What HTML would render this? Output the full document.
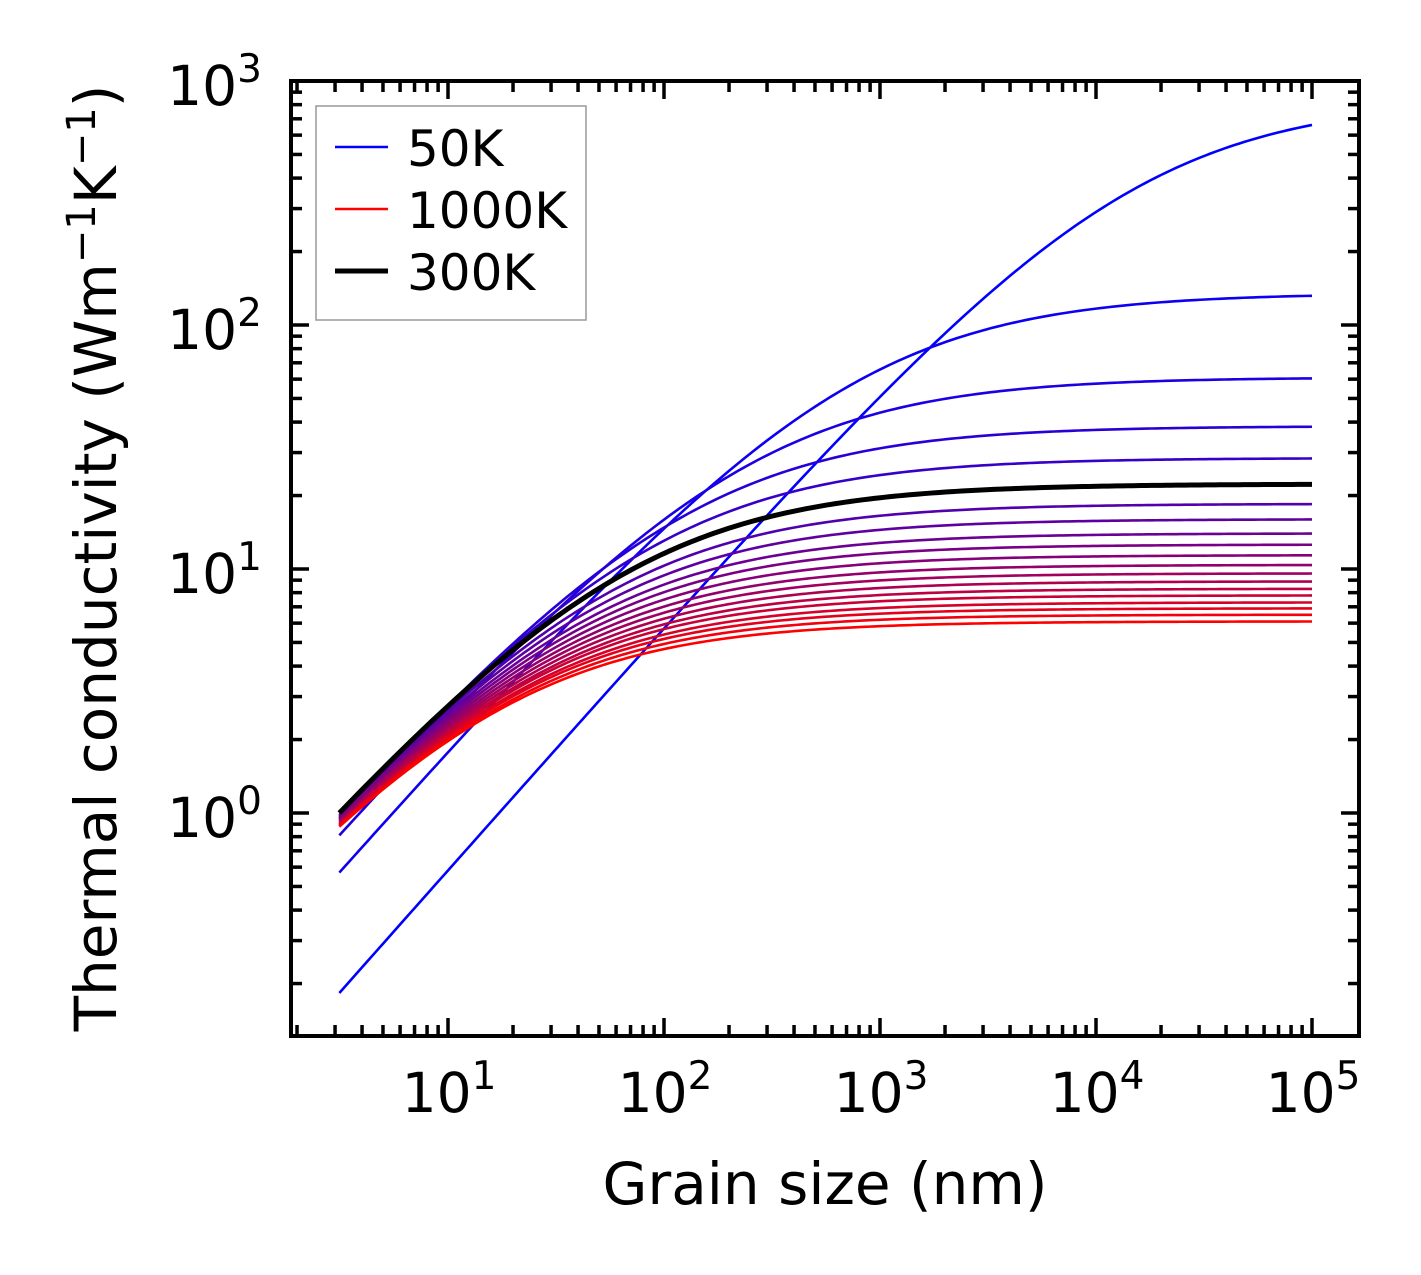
<!DOCTYPE html>
<html><head><meta charset="utf-8">
<style>
html,body{margin:0;padding:0;background:#fff;}
svg{display:block;font-family:"DejaVu Sans","Liberation Sans",sans-serif;}
</style></head>
<body>
<svg id="chart" width="1421" height="1275" viewBox="0 0 1421 1275" xmlns="http://www.w3.org/2000/svg">
<g id="curves"></g>
<rect x="291" y="81" width="1068" height="955" fill="none" stroke="#000" stroke-width="4"/>
<g id="ticks"></g>
<g id="labels" font-size="55" fill="#000"></g>
<text x="825" y="1204" font-size="58" text-anchor="middle">Grain size (nm)</text>
<text transform="translate(116,558) rotate(-90)" font-size="58" text-anchor="middle">Thermal conductivity (Wm<tspan dy="-21" font-size="40">−1</tspan><tspan dy="21">K</tspan><tspan dy="-21" font-size="40">−1</tspan><tspan dy="21">)</tspan></text>
<g>
<rect x="316" y="106" width="270" height="214" fill="#fff" stroke="#999" stroke-width="1.5"/>
<line x1="335" y1="147" x2="388" y2="147" stroke="#0000ff" stroke-width="2.5"/>
<text x="407" y="166" font-size="50">50K</text>
<line x1="335" y1="209" x2="388" y2="209" stroke="#ff0000" stroke-width="2.5"/>
<text x="407" y="228" font-size="50">1000K</text>
<line x1="335" y1="271" x2="388" y2="271" stroke="#000" stroke-width="5"/>
<text x="407" y="290" font-size="50">300K</text>
</g>
</svg>
<script>
const temps = [50,100,150,200,250,300,350,400,450,500,550,600,650,700,750,800,850,900,950,1000];
const kBulk = [840,135,61,38.5,28.5,22.3,18.5,16,14,12.6,11.4,10.4,9.6,8.9,8.3,7.8,7.3,6.9,6.5,6.1];
const kAtStart = [0.183,0.57,0.81,0.95,0.98,1.0,0.98,0.97,0.96,0.95,0.94,0.93,0.92,0.91,0.9,0.9,0.89,0.89,0.88,0.88];
const grainRange = [3.14, 100000];
const xTickExps = [1,2,3,4,5];
const yTickExps = [0,1,2,3];

const NS = "http://www.w3.org/2000/svg";
const X0 = 448, XPD = 216;
const Y0 = 813, YPD = 244;
const xs = v => X0 + (Math.log10(v) - 1) * XPD;
const ys = v => Y0 - Math.log10(v) * YPD;
const L_MIN = 1.87, L_MAX = Math.pow(10, 5.22), K_MIN = 0.122, K_MAX = 1000;
const A = 0.8;

function colorFor(i){
  const t = i / (temps.length - 1);
  return `rgb(${Math.round(255*t)},0,${Math.round(255*(1-t))})`;
}
const curves = document.getElementById('curves');
let blackPath = null;
temps.forEach((T, i) => {
  const kb = kBulk[i], k0 = kAtStart[i], L0 = grainRange[0];
  const Lc = L0 * Math.pow(Math.pow(kb / k0, A) - 1, 1 / A);
  let d = "";
  const e0 = Math.log10(L0), e1 = Math.log10(grainRange[1]);
  for (let j = 0; j <= 200; j++) {
    const L = Math.pow(10, e0 + (e1 - e0) * j / 200);
    const k = kb / Math.pow(1 + Math.pow(Lc / L, A), 1 / A);
    d += (d ? "L" : "M") + xs(L).toFixed(2) + "," + ys(k).toFixed(2);
  }
  const p = document.createElementNS(NS, 'path');
  p.setAttribute('d', d);
  p.setAttribute('fill', 'none');
  p.setAttribute('stroke', T === 300 ? '#000' : colorFor(i));
  p.setAttribute('stroke-width', T === 300 ? '5' : '2.6');
  
  
  if (T === 300) blackPath = p; else curves.appendChild(p);
});
if (blackPath) curves.appendChild(blackPath);

const ticks = document.getElementById('ticks');
function tick(x1,y1,x2,y2,name){
  const l = document.createElementNS(NS,'line');
  l.setAttribute('x1',x1);l.setAttribute('y1',y1);l.setAttribute('x2',x2);l.setAttribute('y2',y2);
  l.setAttribute('stroke','#000');l.setAttribute('stroke-width','3.5');
  
  
  ticks.appendChild(l);
}
for (let e = 0; e <= 5; e++) for (let m = 1; m <= 9; m++) {
  const v = m * Math.pow(10, e);
  if (v < L_MIN || v > L_MAX) continue;
  const x = xs(v), len = m === 1 ? 18 : 11;
  tick(x,1036,x,1036-len,'x-tick');
  tick(x,81,x,81+len,'x-tick-top');
}
for (let e = -1; e <= 2; e++) for (let m = 1; m <= 9; m++) {
  const v = m * Math.pow(10, e);
  if (v < K_MIN || v > K_MAX) continue;
  const y = ys(v), len = m === 1 ? 18 : 11;
  tick(291,y,291+len,y,'y-tick');
  tick(1359,y,1359-len,y,'y-tick-right');
}
{ const y = ys(1000); tick(291,y,309,y,'y-tick'); tick(1359,y,1341,y,'y-tick-right'); }

const labels = document.getElementById('labels');
xTickExps.forEach(e => {
  const t = document.createElementNS(NS,'text');
  t.setAttribute('x', xs(Math.pow(10,e)) + 1);
  t.setAttribute('y', 1112);
  t.setAttribute('text-anchor','middle');
  t.innerHTML = '10<tspan dy="-23" font-size="39">' + e + '</tspan>';
  
  
  labels.appendChild(t);
});
yTickExps.forEach(e => {
  const t = document.createElementNS(NS,'text');
  t.setAttribute('x', 262);
  t.setAttribute('y', ys(Math.pow(10,e)) + 24);
  t.setAttribute('text-anchor','end');
  t.innerHTML = '10<tspan dy="-23" font-size="39">' + e + '</tspan>';
  
  
  labels.appendChild(t);
});
</script>
</body></html>
